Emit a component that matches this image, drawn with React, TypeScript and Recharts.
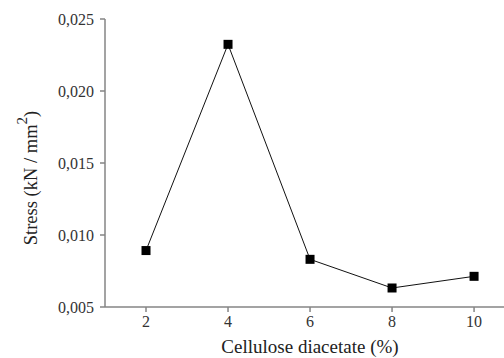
import { CartesianGrid, Line, LineChart, XAxis, YAxis } from 'recharts'

const CONTENT = [2, 4, 6, 8, 10]
const STRESS = [0.00892, 0.02324, 0.00831, 0.00632, 0.00713]
const X_TICKS = [2, 4, 6, 8, 10]
const Y_TICKS = [0.005, 0.01, 0.015, 0.02, 0.025]

const data = CONTENT.map((c, i) => ({ x: c, y: STRESS[i] }))

const AXIS = '#858585'
const FONT = '"Liberation Serif", "Times New Roman", serif'

function SquareDot(props: any) {
  const { cx, cy } = props
  if (cx == null || cy == null) return null
  return <rect x={cx - 4.5} y={cy - 4.5} width={9} height={9} fill="#000" />
}

function YLabel() {
  return (
    <text
      transform="translate(37,178) rotate(-90)"
      textAnchor="middle"
      fontFamily={FONT}
      fontSize={18.5}
      fill="#222"
    >
      Stress (kN / mm
      <tspan dy={-10} fontSize={15}>2</tspan>
      <tspan dy={10}>)</tspan>
    </text>
  )
}

function XLabel() {
  return (
    <text x={310} y={353} textAnchor="middle" fontFamily={FONT} fontSize={19} fill="#222">
      Cellulose diacetate (%)
    </text>
  )
}

export default function App() {
  return (
    <div style={{ position: 'absolute', left: 0, top: 0, width: 504, height: 358, background: '#fff' }}>
      <LineChart width={504} height={358} data={data} margin={{ top: 19, right: 0, bottom: 0, left: 0 }}>
        <CartesianGrid stroke="none" />
        <XAxis
          dataKey="x"
          type="number"
          domain={[1, 10.73]}
          ticks={X_TICKS}
          allowDataOverflow
          stroke={AXIS}
          strokeWidth={1.5}
          tickSize={5}
          tickMargin={4}
          height={51}
          tick={{ fill: '#333', fontSize: 16, fontFamily: FONT }}
          label={<XLabel />}
        />
        <XAxis
          xAxisId="top"
          orientation="top"
          dataKey="x"
          type="number"
          domain={[1, 10.73]}
          tick={false}
          tickLine={false}
          height={0}
          stroke={AXIS}
          strokeWidth={1.5}
        />
        <YAxis
          type="number"
          domain={[0.005, 0.025]}
          ticks={Y_TICKS}
          width={105}
          stroke={AXIS}
          strokeWidth={1.5}
          tickSize={5}
          tickMargin={6}
          tickFormatter={(v: number) => v.toFixed(3).replace('.', ',')}
          tick={{ fill: '#333', fontSize: 16, fontFamily: FONT }}
          label={<YLabel />}
        />
        <Line
          dataKey="y"
          stroke="#111"
          strokeWidth={1}
          dot={<SquareDot />}
          activeDot={false}
          isAnimationActive={false}
        />
      </LineChart>
    </div>
  )
}
